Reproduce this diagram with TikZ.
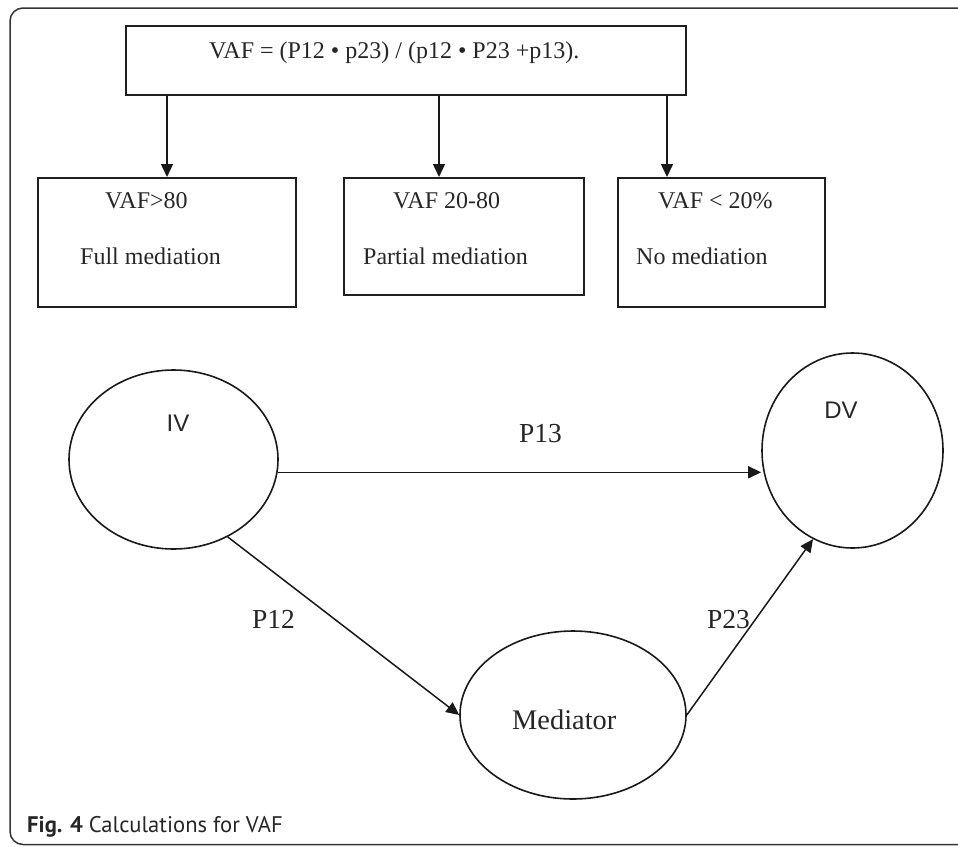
\documentclass[tikz,border=0pt]{standalone}
\usepackage{fontspec}
\setmainfont{Liberation Serif}
\newfontfamily\arialfont{Liberation Sans}
\newfontfamily\capfont{PT Sans}
\usetikzlibrary{arrows.meta,shapes.geometric}
\begin{document}
\begin{tikzpicture}[x=1pt,y=-1pt,
  box/.style={draw, line width=1.8pt, rectangle, inner sep=0pt, anchor=north west, color=black!88},
  oval/.style={draw, line width=1.6pt, ellipse, inner sep=0pt, color=black!90},
  arr/.style={line width=1.5pt, color=black!90, -{Triangle[length=13pt,width=12pt]}},
  serif/.style={font=\fontsize{24}{28}\selectfont, anchor=base west, inner sep=0pt, text=black!85},
  plabel/.style={font=\fontsize{27.5}{32}\selectfont, anchor=base west, inner sep=0pt, text=black!85},
  medlabel/.style={font=\fontsize{28.4}{33}\selectfont, anchor=base west, inner sep=0pt, text=black!85},
  sanslabel/.style={font=\arialfont\fontsize{24}{28}\selectfont, inner sep=0pt, text=black!85},
]
\useasboundingbox (0,0) rectangle (958,846);
% frame
\draw[line width=1.5pt, rounded corners=13pt, color=black!80] (975,8) -- (10,8) -- (10,844.5) -- (975,844.5);

% boxes
\node[box, minimum width=560pt, minimum height=69pt] (top) at (125,25) {};
\node[box, minimum width=258pt, minimum height=129pt] (b1) at (37,177) {};
\node[box, minimum width=240pt, minimum height=117pt] (b2) at (343,177) {};
\node[box, minimum width=207pt, minimum height=129pt] (b3) at (617,177) {};

\node[serif] (tf) at (209,58) {VAF = (P12 • p23) / (p12 • P23 +p13).};
\node[serif] (t1a) at (105,208) {VAF>80};
\node[serif] (t1b) at (80,264) {Full mediation};
\node[serif] (t2a) at (393,208) {VAF 20-80};
\node[serif] (t2b) at (363,264) {Partial mediation};
\node[serif] (t3a) at (658,208) {VAF < 20\%};
\node[serif] (t3b) at (636,264) {No mediation};

\coordinate (a1) at (167,0);
\coordinate (a2) at (439,0);
\coordinate (a3) at (667,0);
\draw[arr] (top.south -| a1) -- (b1.north -| a1);
\draw[arr] (top.south -| a2) -- (b2.north -| a2);
\draw[arr] (top.south -| a3) -- (b3.north -| a3);

% ellipses
\node[oval, minimum width=209pt, minimum height=179pt] (iv) at (173.5,459.5) {};
\node[oval, minimum width=181pt, minimum height=195pt] (dv) at (852.5,450.5) {};
\node[oval, minimum width=226pt, minimum height=168pt] (med) at (573,715) {};

\node[sanslabel] (ivl) at (178,423) {IV};
\node[sanslabel] (dvl) at (841,410) {DV};
\node[medlabel] (medl) at (512,729) {Mediator};

\draw[arr] (iv.-7.4) -- (iv.-7.4 -| dv.west);
\draw[arr] (iv.-55) -- (med.west);
\draw[arr] (med.east) -- (dv.-114);

\node[plabel] (p13) at (519,442) {P13};
\node[plabel] (p12) at (252,628) {P12};
\node[plabel] (p23) at (707,628) {P23};

% caption
\node[anchor=base west, inner sep=0pt, font=\capfont\fontsize{22.6}{26}\selectfont, text=black!85] (cap) at (27,832) {\textbf{Fig. 4} Calculations for VAF};
\end{tikzpicture}
\end{document}
